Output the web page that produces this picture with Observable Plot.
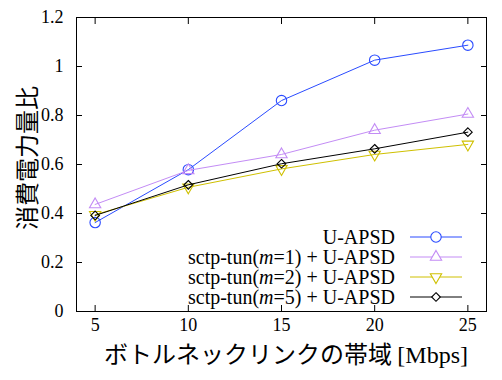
<!DOCTYPE html>
<html><head><meta charset="utf-8">
<script src="https://cdn.jsdelivr.net/npm/d3@7"></script>
<script src="https://cdn.jsdelivr.net/npm/@observablehq/plot@0.6"></script>
<style>body{margin:0;background:#fff}#c{position:relative;width:502px;height:380px}</style>
</head><body><div id="c"></div>
<script>
const bandwidth = [5, 10, 15, 20, 25];
const seriesNames = ["U-APSD", "sctp-tun(m=1) + U-APSD", "sctp-tun(m=2) + U-APSD", "sctp-tun(m=5) + U-APSD"];
const uapsd = [0.363, 0.579, 0.861, 1.026, 1.087];
const m1 = [0.437, 0.576, 0.641, 0.740, 0.806];
const m2 = [0.395, 0.507, 0.582, 0.641, 0.682];
const m5 = [0.392, 0.517, 0.603, 0.664, 0.732];
const xTicks = [5, 10, 15, 20, 25];
const yTicks = [0, 0.2, 0.4, 0.6, 0.8, 1, 1.2];
const colors = ["#2a4bff", "#c38cf5", "#cfc000", "#000000"];

const triDown = {draw(ctx, size) {
  const y = -Math.sqrt(size / (Math.sqrt(3) * 3)), s3 = Math.sqrt(3);
  ctx.moveTo(0, -y * 2); ctx.lineTo(-s3 * y, y); ctx.lineTo(s3 * y, y); ctx.closePath();
}};
const symbols = ["circle", "triangle", triDown, "diamond2"];
const radii = [5.2, 4.2, 4.2, 3.9];
const allSeries = [uapsd, m1, m2, m5];
const data = allSeries.flatMap((vals, i) => vals.map((v, j) => ({x: bandwidth[j], y: v, s: i})));

const marks = [];
allSeries.forEach((vals, i) => {
  const d = data.filter(p => p.s === i);
  marks.push(Plot.line(d, {x: "x", y: "y", stroke: colors[i], strokeWidth: 1}));
  marks.push(Plot.dot(d, {x: "x", y: "y", stroke: colors[i], symbol: () => symbols[i], r: radii[i], strokeWidth: 1.1, fill: "none"}));
});

const SERIF = "'Liberation Serif'";
const chart = Plot.plot({
  width: 502, height: 380,
  marginLeft: 76, marginRight: 16, marginTop: 17, marginBottom: 69,
  style: {fontFamily: SERIF, fontSize: "18px", color: "#000", background: "#fff"},
  x: {domain: [4, 26]},
  y: {domain: [0, 1.2]},
  symbol: {type: "identity"},
  marks: [
    Plot.axisX(xTicks, {tickSize: 0, tickPadding: 7, label: null, fontSize: 18}),
    Plot.axisX(xTicks, {tickSize: -6, fill: "none", label: null}),
    Plot.axisX(xTicks, {anchor: "top", tickSize: -6, fill: "none", label: null}),
    Plot.axisY(yTicks, {tickSize: 0, tickPadding: 13, label: null, tickFormat: d => String(d), fontSize: 18}),
    Plot.axisY(yTicks, {tickSize: -6, fill: "none", label: null}),
    Plot.axisY(yTicks, {anchor: "right", tickSize: -6, fill: "none", label: null}),
    ...marks,
    Plot.frame({stroke: "#000", strokeWidth: 1})
  ]
});
document.getElementById("c").appendChild(chart);

const svg = d3.select(chart);
svg.selectAll("text").style("font-family", SERIF);
// axis titles
svg.append("text").attr("transform", "translate(36,158) rotate(-90)").attr("text-anchor", "middle")
  .style("font-family", "'Noto Sans CJK JP'").style("font-size", "24px").attr("fill", "#000").text("消費電力量比");
const xl = svg.append("text").attr("x", 286).attr("y", 363).attr("text-anchor", "middle").attr("fill", "#000");
xl.append("tspan").style("font-family", "'Noto Sans CJK JP'").style("font-size", "24px").text("ボトルネックリンクの帯域 ");
xl.append("tspan").style("font-family", SERIF).style("font-size", "24px").text("[Mbps]");

// legend
const lg = svg.append("g").attr("transform", "translate(395,237)");
seriesNames.forEach((name, i) => {
  const g = lg.append("g").attr("transform", `translate(0,${i * 20})`);
  const t = g.append("text").attr("text-anchor", "end").attr("dy", "0.33em")
    .style("font-family", SERIF).style("font-size", "20px").attr("fill", "#000");
  const parts = name.split("m=");
  if (parts.length > 1) {
    t.append("tspan").text(parts[0]);
    t.append("tspan").attr("font-style", "italic").text("m");
    t.append("tspan").text("=" + parts[1]);
  } else t.text(name);
  g.append("line").attr("x1", 15).attr("x2", 67).attr("stroke", colors[i]).attr("stroke-width", 1);
  const sym = typeof symbols[i] === "string" ? (symbols[i] === "circle" ? d3.symbolCircle : symbols[i] === "triangle" ? d3.symbolTriangle : d3.symbolDiamond2) : symbols[i];
  g.append("path").attr("transform", "translate(41,0)").attr("d", d3.symbol(sym, Math.PI * radii[i] * radii[i])())
    .attr("fill", "white").attr("stroke", colors[i]).attr("stroke-width", 1.1);
});
</script></body></html>
